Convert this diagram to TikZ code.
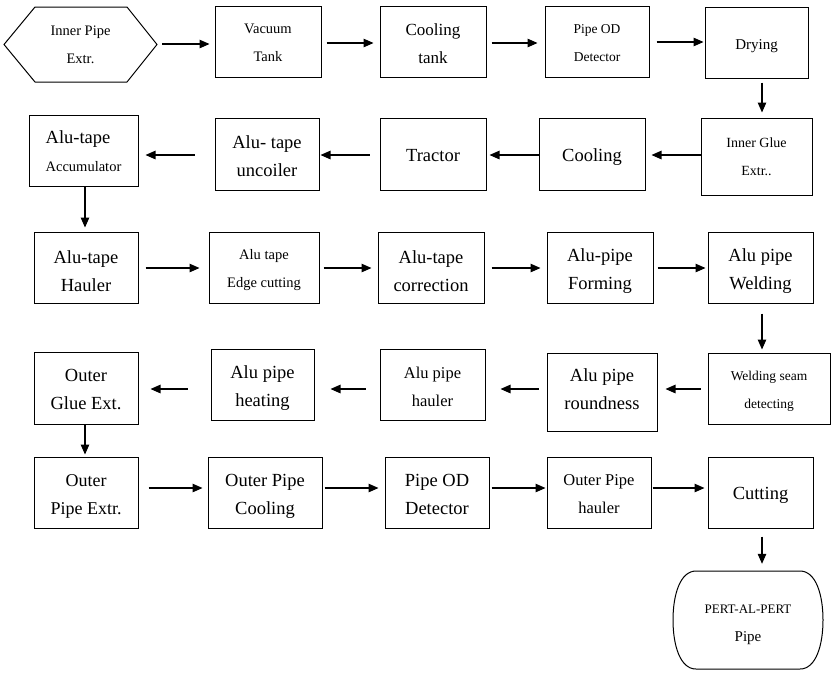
\documentclass[tikz,border=0pt]{standalone}
\usepackage{fontspec}
\setmainfont{Liberation Serif}
\usetikzlibrary{arrows.meta,calc}
\newcommand\myfs[1]{\fontsize{#1}{28}\selectfont}
\begin{document}
\begin{tikzpicture}[x=1pt,y=-1pt,
  box/.style={draw,line width=1pt,inner sep=0pt,align=center},
  txt/.style={inner sep=0pt,align=center},
  wh/.style 2 args={minimum width=#1pt,minimum height=#2pt},
  T/.style n args={3}{label={[txt,font=\myfs{#1},yshift=#2pt]center:#3}},
  arr/.style={line width=1.2pt,-{Triangle[length=10pt,width=8.5pt]}},
]
\useasboundingbox (0,0) rectangle (837,678);
% row coordinates
\coordinate (r1) at (0,44);
\coordinate (r2) at (0,155);
\coordinate (r3) at (0,268);
\coordinate (r4) at (0,389);
\coordinate (r5) at (0,488);
\coordinate (cl) at (85,0);
\coordinate (cr) at (762,0);
% Row 1
\node[txt,wh={153}{75},font=\myfs{14.5}] (hex) at (80.5,44.5) {Inner Pipe\\Extr.};
\draw[line width=1pt] (4,44.5) -- (35,7) -- (127,7) -- (157,44.5) -- (127,82) -- (35,82) -- cycle;
\node[box,wh={106}{71},T={14.5}{-1.5}{Vacuum\\Tank}] (vac) at (268,41.5) {};
\node[box,wh={106}{71},T={17}{-2}{Cooling\\tank}] (cool) at (433,41.5) {};
\node[box,wh={104}{71},T={13.5}{-2}{Pipe OD\\Detector}] (pod1) at (597,41.5) {};
\node[box,wh={103}{71},T={15}{-4}{Drying}] (dry) at (756.5,42.5) {};
% Row 2
\node[box,wh={109}{71},label={[txt,align=left,font=\myfs{14.5},yshift=-0.5pt]center:{\myfs{18.5}Alu-tape}\\{\myfs{14.5}Accumulator}}] (acc) at (83.5,150.5) {};
\node[box,wh={104}{72},T={18.5}{-2}{Alu- tape\\uncoiler}] (unc) at (267,154) {};
\node[box,wh={106}{72},T={18.5}{-2}{Tractor}] (trac) at (433,154) {};
\node[box,wh={106}{72},T={18.5}{-3}{Cooling}] (cool2) at (592,154) {};
\node[box,wh={111}{77},T={14}{0}{Inner Glue\\Extr..}] (iglue) at (756.5,156.5) {};
% Row 3
\node[box,wh={104}{71},T={18.5}{-3.5}{Alu-tape\\Hauler}] (haul) at (86,267.5) {};
\node[box,wh={110}{71},T={14.5}{-3}{Alu tape\\Edge cutting}] (edge) at (264,267.5) {};
\node[box,wh={106}{71},T={18.5}{-3.5}{Alu-tape\\correction}] (corr) at (431,267.5) {};
\node[box,wh={106}{71},T={18.5}{-4}{Alu-pipe\\Forming}] (form) at (600,267.5) {};
\node[box,wh={105}{71},T={18.5}{-4}{Alu pipe\\Welding}] (weld) at (760.5,267.5) {};
% Row 4
\node[box,wh={104}{72},T={18.5}{-1.5}{Outer\\Glue Ext.}] (oglue) at (86,388) {};
\node[box,wh={103}{71},T={18.5}{-3.5}{Alu pipe\\heating}] (heat) at (262.5,384.5) {};
\node[box,wh={105}{71},T={16.5}{-2}{Alu pipe\\hauler}] (ahaul) at (432.5,384.5) {};
\node[box,wh={110}{78},T={18.5}{3}{Alu pipe\\roundness}] (round) at (602,392) {};
\node[box,wh={122}{71},T={13.5}{-2.5}{Welding seam\\detecting}] (seam) at (769,388.5) {};
% Row 5
\node[box,wh={104}{71},T={18}{-4}{Outer\\Pipe Extr.}] (opext) at (86,492.5) {};
\node[box,wh={114}{71},T={18.5}{-4}{Outer Pipe\\Cooling}] (opcool) at (265,492.5) {};
\node[box,wh={104}{71},T={18.5}{-2}{Pipe OD\\Detector}] (pod2) at (437,492.5) {};
\node[box,wh={104}{71},T={16.5}{-1.5}{Outer Pipe\\hauler}] (ophaul) at (599,492.5) {};
\node[box,wh={105}{71},T={18.5}{-3}{Cutting}] (cut) at (760.5,492.5) {};
% End
\node[txt,wh={150}{98},label={[txt,font=\myfs{14},yshift=-4.5pt]center:{\myfs{13}PERT-AL-PERT}\\{\myfs{15}Pipe}}] (pert) at (748,620) {};
\draw[line width=1pt] (696,571) -- (800,571)
  .. controls (816,571) and (823,595) .. (823,620)
  .. controls (823,645) and (816,669) .. (800,669)
  -- (696,669)
  .. controls (680,669) and (673,645) .. (673,620)
  .. controls (673,595) and (680,571) .. (696,571) -- cycle;
% Arrows row 1
\draw[arr,shorten <=5pt,shorten >=5pt] (hex.east |- r1) -- (vac.west |- r1);
\draw[arr,shorten <=5pt,shorten >=6pt] (vac.east |- 0,43) -- (cool.west |- 0,43);
\draw[arr,shorten <=5pt,shorten >=7pt] (cool.east |- 0,43) -- (pod1.west |- 0,43);
\draw[arr,shorten <=7pt,shorten >=1pt] (pod1.east |- 0,42) -- (dry.west |- 0,42);
\draw[arr,shorten <=4pt,shorten >=5pt] (dry.south -| cr) -- (iglue.north -| cr);
% Arrows row 2
\draw[arr,shorten <=0pt,shorten >=6pt] (iglue.west |- r2) -- (cool2.east |- r2);
\draw[arr,shorten <=0pt,shorten >=3pt] (cool2.west |- r2) -- (trac.east |- r2);
\draw[arr,shorten <=10pt,shorten >=1pt] (trac.west |- r2) -- (unc.east |- r2);
\draw[arr,shorten <=20pt,shorten >=7pt] (unc.west |- r2) -- (acc.east |- r2);
\draw[arr,shorten <=0pt,shorten >=4pt] (acc.south -| cl) -- (haul.north -| cl);
% Arrows row 3
\draw[arr,shorten <=7pt,shorten >=9pt] (haul.east |- r3) -- (edge.west |- r3);
\draw[arr,shorten <=4pt,shorten >=6pt] (edge.east |- r3) -- (corr.west |- r3);
\draw[arr,shorten <=7pt,shorten >=6pt] (corr.east |- r3) -- (form.west |- r3);
\draw[arr,shorten <=4pt,shorten >=2pt] (form.east |- r3) -- (weld.west |- r3);
\draw[arr,shorten <=10pt,shorten >=3pt] (weld.south -| cr) -- (seam.north -| cr);
% Arrows row 4
\draw[arr,shorten <=7pt,shorten >=8pt] (seam.west |- r4) -- (round.east |- r4);
\draw[arr,shorten <=8pt,shorten >=15pt] (round.west |- r4) -- (ahaul.east |- r4);
\draw[arr,shorten <=14pt,shorten >=16pt] (ahaul.west |- r4) -- (heat.east |- r4);
\draw[arr,shorten <=23pt,shorten >=12pt] (heat.west |- r4) -- (oglue.east |- r4);
\draw[arr,shorten <=0pt,shorten >=2pt] (oglue.south -| cl) -- (opext.north -| cl);
% Arrows row 5
\draw[arr,shorten <=10pt,shorten >=5pt] (opext.east |- r5) -- (opcool.west |- r5);
\draw[arr,shorten <=2pt,shorten >=6pt] (opcool.east |- r5) -- (pod2.west |- r5);
\draw[arr,shorten <=2pt,shorten >=1pt] (pod2.east |- r5) -- (ophaul.west |- r5);
\draw[arr,shorten <=1pt,shorten >=3pt] (ophaul.east |- r5) -- (cut.west |- r5);
\draw[arr,shorten <=8pt,shorten >=7pt] (cut.south -| cr) -- (pert.north -| cr);
\end{tikzpicture}
\end{document}
